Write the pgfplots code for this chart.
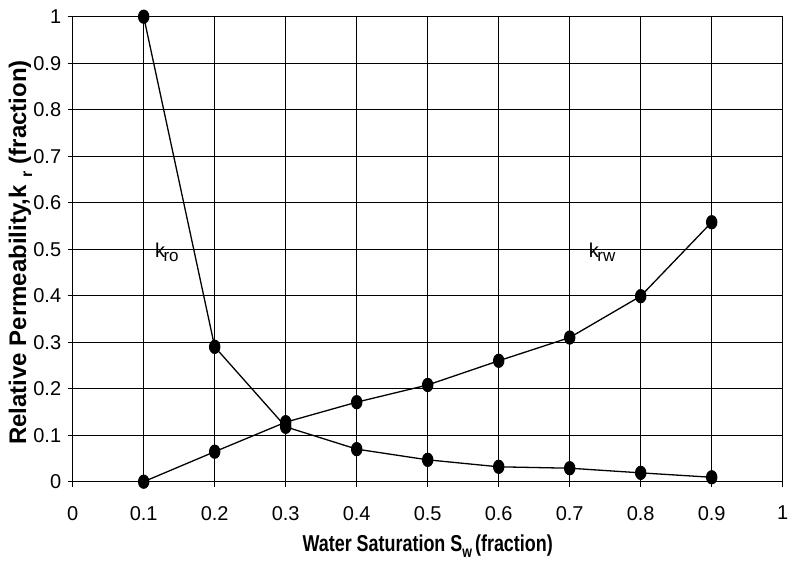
\documentclass[border=0pt]{standalone}
\usepackage{pgfplots}
\pgfplotsset{compat=1.18}
\usepackage{fontspec}
\setmainfont{Liberation Sans}
\begin{document}
\begin{tikzpicture}
\useasboundingbox (0,0) rectangle (788pt,561pt);
\begin{axis}[
  scale only axis,
  width=710pt, height=465pt,
  at={(72.7pt,79.3pt)}, anchor=south west,
  xmin=0, xmax=1, ymin=0, ymax=1,
  xtick={0,0.1,...,1.01}, ytick={0,0.1,...,1.01},
  grid=major,
  major grid style={black, line width=0.8pt},
  axis line style={black, line width=1pt},
  tick style={black, line width=0.8pt},
  tick align=outside, major tick length=5pt,
  xtick pos=bottom, ytick pos=left,
  /pgf/number format/assume math mode=true,
  ticklabel style={font=\fontsize{20}{24}\selectfont},
  xticklabel style={yshift=-16pt},
  yticklabel style={xshift=-3pt},
  xlabel={\scalebox{0.78}[1]{Water Saturation S\raisebox{-6pt}{\fontsize{16}{16}\selectfont w}\,(fraction)}},
  xlabel style={font=\fontsize{23}{26}\selectfont\bfseries, at={(rel axis cs:0.5,0)}, anchor=base, yshift=-70pt},
  ylabel={Relative Permeability,k\,\,\raisebox{-6pt}{\fontsize{16}{16}\selectfont r} (fraction)},
  ylabel style={font=\fontsize{24}{28}\selectfont\bfseries, at={(rel axis cs:0,0.493)}, anchor=base, yshift=46.5pt},
]
\addplot[black, line width=1.3pt, mark=*, mark size=6.5pt, mark options={xscale=0.78, fill=black}] coordinates {(0.1,1) (0.2,0.29) (0.3,0.118) (0.4,0.070) (0.5,0.047) (0.6,0.032) (0.7,0.029) (0.8,0.019) (0.9,0.0095)};
\addplot[black, line width=1.3pt, mark=*, mark size=6.5pt, mark options={xscale=0.78, fill=black}] coordinates {(0.1,0) (0.2,0.0645) (0.3,0.128) (0.4,0.171) (0.5,0.208) (0.6,0.26) (0.7,0.31) (0.8,0.399) (0.9,0.558)};
\node[anchor=base west, font=\fontsize{20}{24}\selectfont] at (axis cs:0.111,0.482) {k\kern-1.5pt\raisebox{-4pt}{\fontsize{17}{17}\selectfont ro}};
\node[anchor=base west, font=\fontsize{20}{24}\selectfont] at (axis cs:0.722,0.482) {k\kern-1.5pt\raisebox{-4pt}{\fontsize{17}{17}\selectfont rw}};
\end{axis}
\end{tikzpicture}
\end{document}
